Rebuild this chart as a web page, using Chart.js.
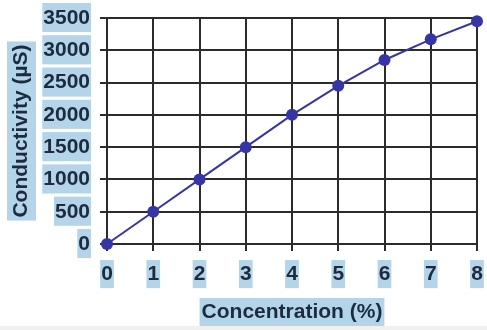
<!DOCTYPE html>
<html>
<head>
<meta charset="utf-8">
<script src="https://cdn.jsdelivr.net/npm/chart.js@4"></script>
<style>
  html, body { margin: 0; padding: 0; background: #f0f0f0; }
  #wrap { position: relative; width: 487px; height: 326px; background: #fff; }
</style>
</head>
<body>
<div id="wrap"><canvas id="chart"></canvas></div>
<script>
// values
const concentration = [0, 1, 2, 3, 4, 5, 6, 7, 8];
const conductivity = [0, 500, 1000, 1500, 2000, 2450, 2850, 3170, 3450];
const xTitle = 'Concentration (%)';
const yTitle = 'Conductivity (µS)';

const navy = '#1c2b3e';
const paleBlue = '#b4d4ea';
const gridColor = '#2b2b2b';
const lineColor = '#3535a6';
const fontFamily = '"Liberation Sans", Arial, sans-serif';
const labelFont = { family: fontFamily, size: 21, weight: 'bold', lineHeight: 1.15 };

// light blue boxes behind the axis titles
const titleBoxes = {
    id: 'titleBoxes',
    beforeDraw(chart) {
        const ctx = chart.ctx;
        const area = chart.chartArea;
        const xs = chart.scales.x, ys = chart.scales.y;
        ctx.save();
        ctx.font = 'bold 21px ' + fontFamily;
        ctx.fillStyle = paleBlue;
        const wx = ctx.measureText(xTitle).width + 4;
        const cx = (area.left + area.right) / 2;
        const cy = xs.bottom - 12 - 2;
        ctx.fillRect(cx - wx / 2, cy - 14, wx, 28);
        const wy = ctx.measureText(yTitle).width + 6;
        const yx = ys.left + 12 + 9;
        const yy = (area.top + area.bottom) / 2;
        ctx.fillRect(yx - 14, yy - wy / 2, 29, wy);
        ctx.restore();
    }
};

const points = concentration.map((c, i) => ({ x: c, y: conductivity[i] }));

new Chart(document.getElementById('chart'), {
    type: 'line',
    data: {
        datasets: [{
            data: points,
            borderColor: lineColor,
            backgroundColor: lineColor,
            borderWidth: 2,
            pointRadius: 6,
            pointHoverRadius: 6,
            pointBorderWidth: 0,
            tension: 0,
            clip: false
        }]
    },
    options: {
        responsive: true,
        maintainAspectRatio: false,
        animation: false,
        layout: { padding: { top: 18, right: 10, left: 0, bottom: 0 } },
        plugins: { legend: { display: false }, tooltip: { enabled: false } },
        scales: {
            x: {
                type: 'linear',
                min: 0,
                max: 8,
                afterFit: s => { s.height = 82; s.paddingLeft = 0; s.paddingRight = 0; },
                grid: { color: gridColor, lineWidth: 2, tickLength: 7 },
                border: { color: gridColor, width: 2 },
                ticks: {
                    stepSize: 1,
                    padding: 11,
                    color: navy,
                    font: labelFont,
                    showLabelBackdrop: true,
                    backdropColor: paleBlue,
                    backdropPadding: { top: 2, bottom: 2, left: 1, right: 1 }
                },
                title: {
                    display: true,
                    text: xTitle,
                    color: navy,
                    font: labelFont,
                    padding: { top: 3, bottom: 2 }
                }
            },
            y: {
                min: 0,
                max: 3500,
                afterFit: s => { s.width = 107; s.paddingTop = 0; s.paddingBottom = 0; },
                grid: { color: gridColor, lineWidth: 2, tickLength: 7 },
                border: { color: gridColor, width: 2 },
                ticks: {
                    stepSize: 500,
                    padding: 10,
                    color: navy,
                    font: labelFont,
                    callback: v => String(v),
                    showLabelBackdrop: true,
                    backdropColor: paleBlue,
                    backdropPadding: { top: 3, bottom: 2, left: 1, right: 1 }
                },
                title: {
                    display: true,
                    text: yTitle,
                    color: navy,
                    font: labelFont,
                    padding: { top: 9, bottom: 2 }
                }
            }
        }
    },
    plugins: [titleBoxes]
});
</script>
</body>
</html>
